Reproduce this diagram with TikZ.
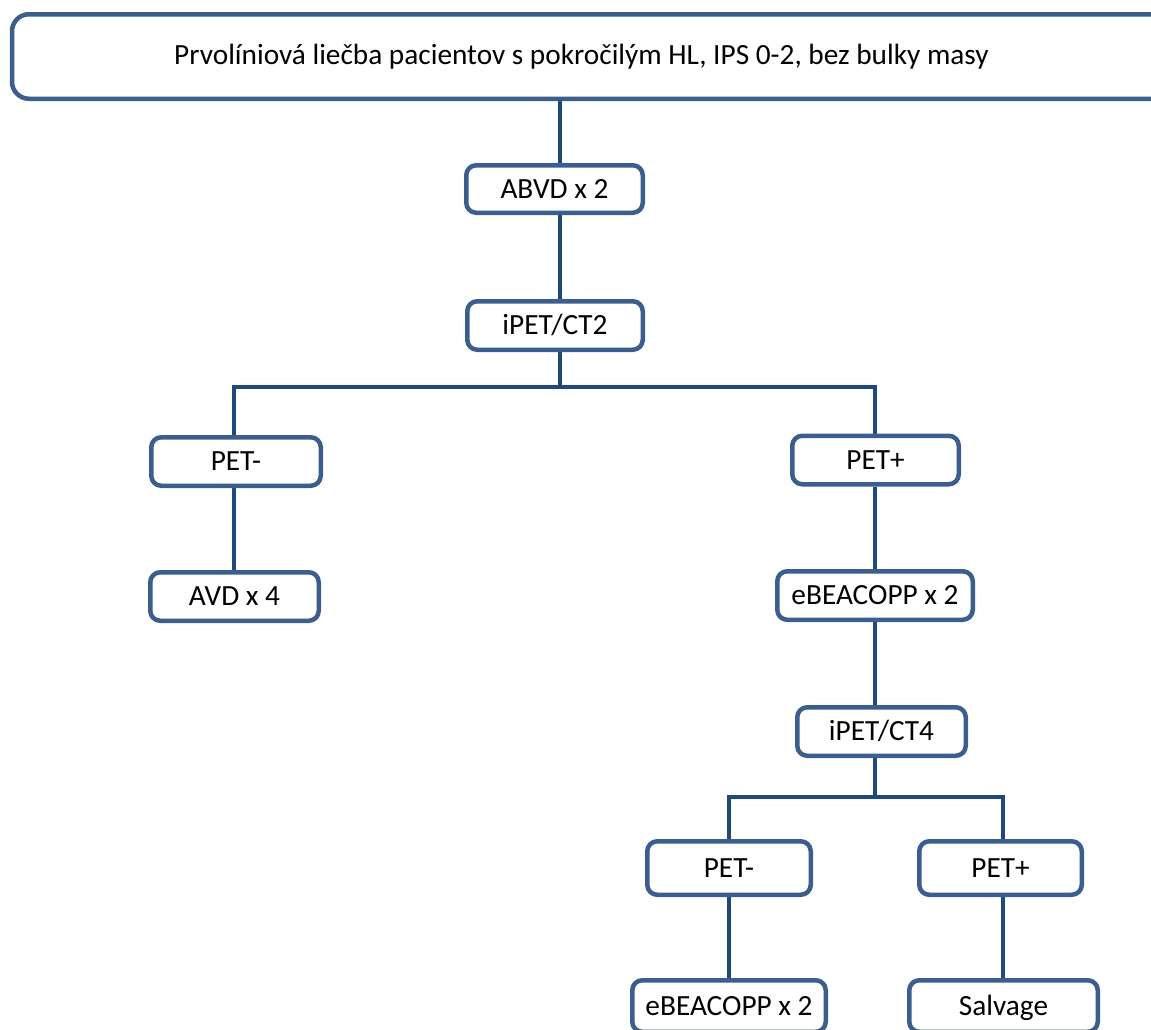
\documentclass[tikz,border=0pt]{standalone}
\usepackage{fontspec}
\setmainfont{Carlito}
\usetikzlibrary{backgrounds}
\definecolor{boxblue}{RGB}{59,94,140}
\definecolor{lineblue}{RGB}{31,73,125}
\tikzset{
  stepbox/.style={draw=boxblue, line width=4.5pt, rounded corners=10pt, fill=white,
    inner sep=0pt, text height=18.8pt, text depth=0pt, align=center,
    font=\fontsize{29.3}{35}\selectfont},
  conn/.style={draw=lineblue, line width=4.8pt},
}
\begin{document}
\begin{tikzpicture}[x=1pt,y=-1pt]
\useasboundingbox (0,0) rectangle (1151,1029);
\clip (0,0) rectangle (1151,1029);

\node[stepbox, rounded corners=17pt, minimum width=1168pt, minimum height=84.5pt] (top) at (596,56.5) {};
\node[anchor=base west, inner sep=0pt, font=\fontsize{29.3}{35}\selectfont] (toptext) at (174,64.5)
  {Prvolíniová liečba pacientov s pokročilým HL, IPS 0-2, bez bulky masy};

\node[stepbox, minimum width=176.5pt, minimum height=47.5pt] (abvd) at (554.5,189) {ABVD x 2};
\node[stepbox, minimum width=175.5pt, minimum height=48.5pt] (ipet2) at (555,325.5) {iPET/CT2};
\node[stepbox, minimum width=169.5pt, minimum height=48.5pt] (petm) at (236,461.5) {PET-};
\node[stepbox, minimum width=166.5pt, minimum height=48.5pt] (petp) at (875.5,460) {PET+};
\node[stepbox, minimum width=168.5pt, minimum height=48.5pt] (avd) at (234.5,596.5) {AVD x 4};
\node[stepbox, minimum width=195.5pt, minimum height=48.5pt] (ebea) at (875,595.5) {eBEACOPP x 2};
\node[stepbox, minimum width=168.5pt, minimum height=48.5pt] (ipet4) at (881.5,731.5) {iPET/CT4};
\node[stepbox, minimum width=163.5pt, minimum height=53.5pt] (petm2) at (729,868) {PET-};
\node[stepbox, minimum width=162.5pt, minimum height=53.5pt] (petp2) at (1000.5,868) {PET+};
\node[stepbox, minimum width=193.5pt, minimum height=51.5pt] (ebea2) at (729,1006) {eBEACOPP x 2};
\node[stepbox, minimum width=188.5pt, minimum height=51.5pt] (salv) at (1003.5,1006) {Salvage};

\coordinate (c1) at (560,387);
\coordinate (lL) at (234,387);
\coordinate (lR) at (875,387);
\coordinate (c2) at (875,797);
\coordinate (l2L) at (729,797);
\coordinate (l2R) at (1003,797);

\begin{pgfonlayer}{background}
\fill[white] (0,0) rectangle (1151,1029);
\draw[conn] (top.south -| c1) -- (abvd.north -| c1);
\draw[conn] (abvd.south -| c1) -- (ipet2.north -| c1);
\draw[conn] (ipet2.south -| c1) -- (c1);
\draw[conn] (petm.north -| lL) -- (lL) -- (lR) -- (petp.north -| lR);
\draw[conn] (petm.south -| lL) -- (avd.north -| lL);
\draw[conn] (petp.south -| lR) -- (ebea.north -| lR);
\draw[conn] (ebea.south -| lR) -- (ipet4.north -| lR);
\draw[conn] (ipet4.south -| c2) -- (c2);
\draw[conn] (petm2.north -| l2L) -- (l2L) -- (l2R) -- (petp2.north -| l2R);
\draw[conn] (petm2.south -| l2L) -- (ebea2.north -| l2L);
\draw[conn] (petp2.south -| l2R) -- (salv.north -| l2R);
\end{pgfonlayer}
\end{tikzpicture}
\end{document}
